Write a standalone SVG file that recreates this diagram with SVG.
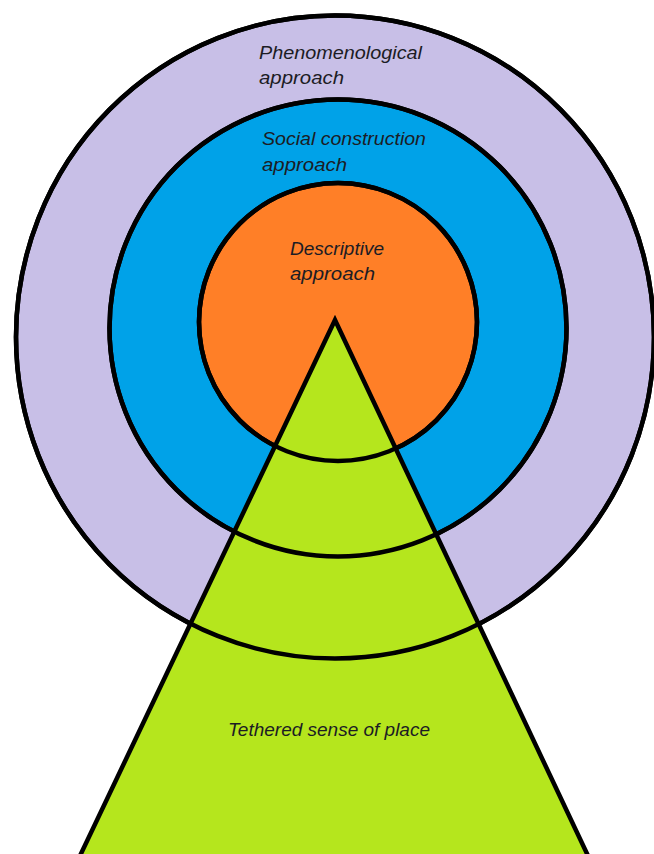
<svg xmlns="http://www.w3.org/2000/svg" xmlns:xlink="http://www.w3.org/1999/xlink" width="654" height="854" viewBox="0 0 654 854">
  <style>
    .ring { stroke: #000; stroke-width: 4.5; }
    .outline { fill: none; stroke: #000; stroke-width: 4.5; }
    .lbl { font-family: "Liberation Sans", "Noto Sans", sans-serif; font-style: italic; font-size: 18.5px; fill: #1c1c24; }
  </style>
  <defs>
    <ellipse id="outerShape" cx="335" cy="337" rx="319" ry="321.5"/>
    <circle id="socialShape" cx="338" cy="328" r="228.5"/>
    <circle id="descShape" cx="338" cy="322" r="139"/>
  </defs>
  <rect width="654" height="854" fill="#ffffff"/>

  <g id="phenomenological">
    <use xlink:href="#outerShape" class="ring" fill="#C8BFE7"/>
    <text class="lbl" x="259" y="59" textLength="163" lengthAdjust="spacingAndGlyphs">Phenomenological</text>
    <text class="lbl" x="259" y="84" textLength="85" lengthAdjust="spacingAndGlyphs">approach</text>
  </g>

  <g id="social-construction">
    <use xlink:href="#socialShape" class="ring" fill="#00A2E8"/>
    <text class="lbl" x="262" y="145" textLength="164" lengthAdjust="spacingAndGlyphs">Social construction</text>
    <text class="lbl" x="262" y="171" textLength="85" lengthAdjust="spacingAndGlyphs">approach</text>
  </g>

  <g id="descriptive">
    <use xlink:href="#descShape" class="ring" fill="#FF7F27"/>
    <text class="lbl" x="290" y="255" textLength="94" lengthAdjust="spacingAndGlyphs">Descriptive</text>
    <text class="lbl" x="290" y="280" textLength="85" lengthAdjust="spacingAndGlyphs">approach</text>
  </g>

  <g id="tethered">
    <polygon points="335,320 78,860 590,860" fill="#B5E61D"/>
    <use xlink:href="#outerShape" class="outline"/>
    <use xlink:href="#socialShape" class="outline"/>
    <use xlink:href="#descShape" class="outline"/>
    <polygon points="335,320 78,860 590,860" fill="none" stroke="#000" stroke-width="4.5" stroke-linejoin="miter"/>
    <text class="lbl" x="228" y="736" textLength="202" lengthAdjust="spacingAndGlyphs">Tethered sense of place</text>
  </g>
</svg>
